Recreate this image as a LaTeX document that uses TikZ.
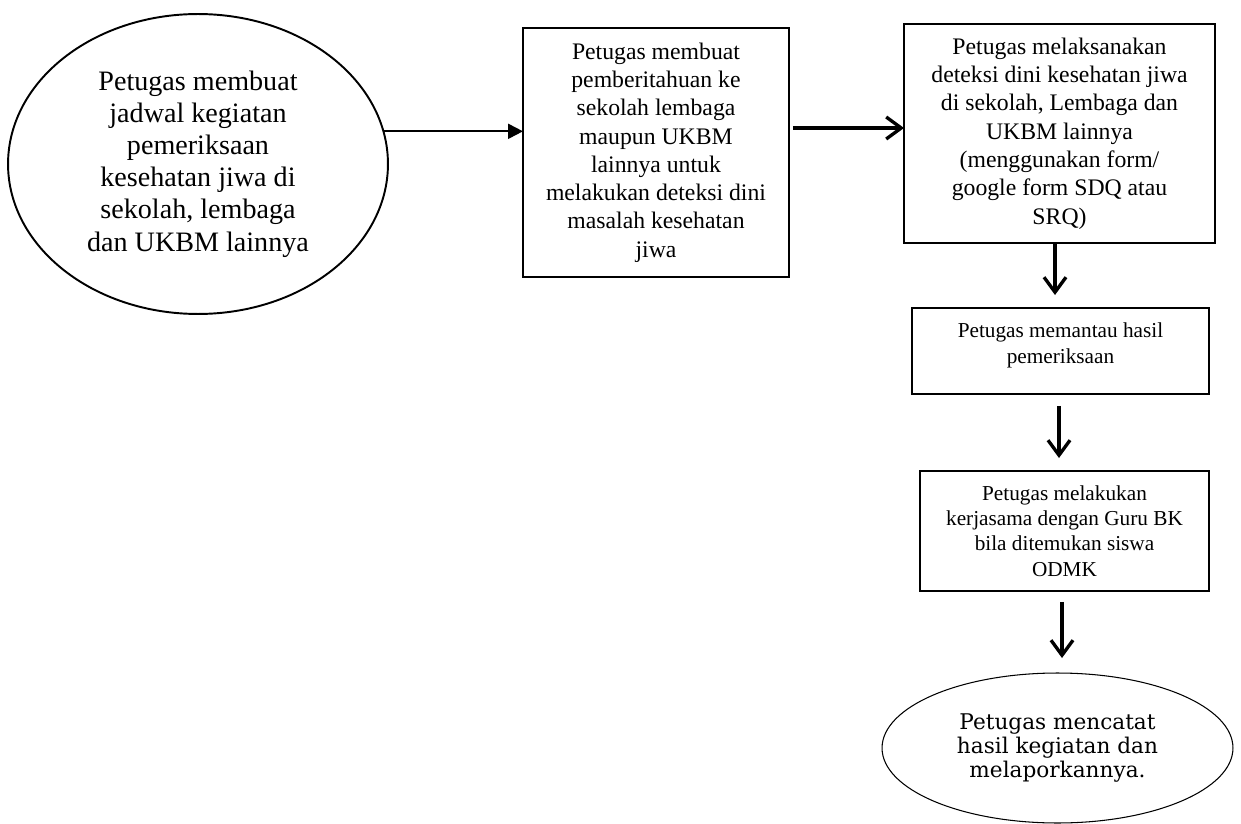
\documentclass[tikz,border=0pt]{standalone}
\usepackage{fontspec}
\setmainfont{Liberation Serif}
\newfontfamily\ellfont{DejaVu Serif}
\usetikzlibrary{arrows.meta,shapes.geometric}

\begin{document}
\begin{tikzpicture}[x=0.02cm,y=-0.02cm,
  every node/.style={inner sep=0pt,outer sep=0pt,align=center},
  stepbox/.style={draw,rectangle,line width=1.3pt},
  oval/.style={draw,ellipse},
  thinarrow/.style={line width=1.1pt,-{Triangle[length=0.3cm,width=0.3cm]}},
  thickarrow/.style={line width=1.9pt,-{Straight Barb[length=0.3cm,width=0.44cm]}},
  bigtext/.style={font=\fontsize{16}{18.3}\selectfont},
  midtext/.style={font=\fontsize{13.5}{16.1}\selectfont},
  smalltext/.style={font=\fontsize{12.1}{14.4}\selectfont},
]
\useasboundingbox (0,0) rectangle (1241,824);

% start: schedule of the screening
\node[oval,line width=1.1pt,minimum width=7.6cm,minimum height=6cm,bigtext]
  (start) at (198,164)
  {Petugas membuat\\jadwal kegiatan\\pemeriksaan\\kesehatan jiwa di\\sekolah, lembaga\\dan UKBM lainnya};

% notification
\node[stepbox,minimum width=5.32cm,minimum height=4.98cm,midtext]
  (notify) at (656,152.5)
  {Petugas membuat\\pemberitahuan ke\\sekolah lembaga\\maupun UKBM\\lainnya untuk\\melakukan deteksi dini\\masalah kesehatan\\jiwa};

% early detection
\node[stepbox,minimum width=6.22cm,minimum height=4.38cm,midtext]
  (detect) at (1059.5,133.5)
  {Petugas melaksanakan\\deteksi dini kesehatan jiwa\\di sekolah, Lembaga dan\\UKBM lainnya\\(menggunakan form/\\google form SDQ atau\\SRQ)};

% monitoring
\node[stepbox,smalltext]
  (monitor) at (1060.5,351)
  {\parbox[c][1.72cm][t]{5.94cm}{\centering\vspace{0.3cm}Petugas memantau hasil\\pemeriksaan}};

% cooperation with counsellors
\node[stepbox,minimum width=5.78cm,minimum height=2.4cm,smalltext]
  (coop) at (1064.5,531)
  {Petugas melakukan\\kerjasama dengan Guru BK\\bila ditemukan siswa\\ODMK};

% end: reporting
\node[oval,line width=0.6pt,minimum width=7.02cm,minimum height=3cm,
      font=\ellfont\fontsize{12.3}{13.4}\selectfont]
  (report) at (1057.5,748)
  {Petugas mencatat\\hasil kegiatan dan\\melaporkannya.};

% connectors
\draw[thinarrow] (start.10) -- (start.10 -| notify.west);

\coordinate (a2) at ([xshift=0.08cm,yshift=0.49cm]notify.east);
\draw[thickarrow] (a2) -- (a2 -| detect.west);

\coordinate (a3) at ([xshift=-0.09cm]detect.south);
\draw[thickarrow,shorten >=0.26cm] (a3) -- (a3 |- monitor.north);

\coordinate (a4) at ([xshift=-0.03cm]monitor.south);
\draw[thickarrow,shorten <=0.24cm,shorten >=0.26cm] (a4) -- (a4 |- coop.north);

\coordinate (a5) at ([xshift=-0.05cm]coop.south);
\draw[thickarrow,shorten <=0.22cm,shorten >=0.3cm] (a5) -- (a5 |- report.north);
\end{tikzpicture}
\end{document}
